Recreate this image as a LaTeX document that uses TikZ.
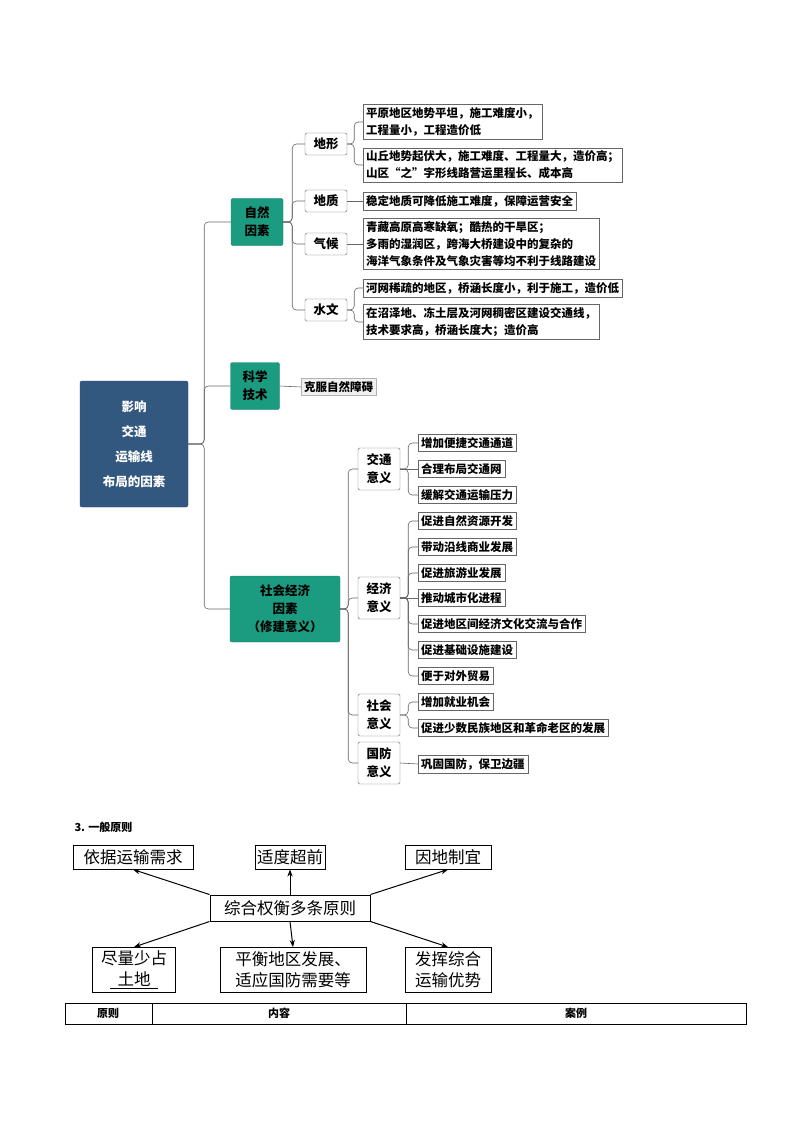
\documentclass[tikz,border=0pt]{standalone}
\usepackage{fontspec}
\newfontfamily\cjk{Noto Sans CJK SC}
\usetikzlibrary{arrows.meta}
\definecolor{rootblue}{HTML}{33587F}
\definecolor{teal}{HTML}{1B9C80}
\tikzset{
  root/.style={draw=rootblue!80!black, fill=rootblue, text=white, rounded corners=2pt,
    font=\cjk\fontsize{12.5}{25}\selectfont\bfseries, align=center, minimum width=108pt, minimum height=126pt},
  main/.style={draw=teal!80!black, fill=teal, text=black, rounded corners=2pt,
    font=\cjk\fontsize{12.5}{18}\selectfont\bfseries, align=center},
  sub/.style={draw=gray!80!black, fill=white, rounded corners=1.5pt,
    font=\cjk\fontsize{12.5}{18}\selectfont\bfseries, align=center, minimum width=42pt},
  leaf/.style={draw=gray!80!black, fill=white, anchor=west, inner sep=3pt,
    font=\cjk\fontsize{11.5}{17}\selectfont\bfseries, align=left},
  link/.style={draw=gray!80!black, line width=0.6pt, rounded corners=4pt},
  box/.style={draw, line width=1pt, font=\cjk\fontsize{16.5}{21}\selectfont, align=center, inner sep=2pt},
  arr/.style={-{Stealth[length=7pt]}, line width=1pt}
}
\begin{document}
\begin{tikzpicture}[x=1pt, y=-1pt]
  \useasboundingbox (0,0) rectangle (794,1123);
  % mind map
  \node[root] (root) at (134,444) {影响\\交通\\运输线\\布局的因素};
  \node[main, minimum width=52pt, minimum height=47pt] (nat) at (257,222) {自然\\因素};
  \node[main, minimum width=49pt, minimum height=47pt] (sci) at (255,386) {科学\\技术};
  \node[main, minimum width=110pt, minimum height=66pt] (soc) at (285,609) {社会经济\\因素\\（修建意义）};
  \foreach \n in {nat,sci,soc} \draw[link] (root.east) -- ++(16,0) |- (\n.west);

  \node[sub, minimum height=22pt] (dx) at (326,144) {地形};
  \node[sub, minimum height=22pt] (dz) at (326,201) {地质};
  \node[sub, minimum height=22pt] (qh) at (326,244) {气候};
  \node[sub, minimum height=22pt] (sw) at (326,310) {水文};
  \foreach \n in {dx,dz,qh,sw} \draw[link] (nat.east) -- ++(9,0) |- (\n.west);

  \node[leaf] (dx1) at (363,122) {平原地区地势平坦，施工难度小，\\工程量小，工程造价低};
  \node[leaf] (dx2) at (363,165) {山丘地势起伏大，施工难度、工程量大，造价高；\\山区“之”字形线路营运里程长、成本高};
  \node[leaf] (dz1) at (363,201) {稳定地质可降低施工难度，保障运营安全};
  \node[leaf] (qh1) at (363,244) {青藏高原高寒缺氧；酷热的干旱区；\\多雨的湿润区，跨海大桥建设中的复杂的\\海洋气象条件及气象灾害等均不利于线路建设};
  \node[leaf] (sw1) at (363,288) {河网稀疏的地区，桥涵长度小，利于施工，造价低};
  \node[leaf] (sw2) at (363,322) {在沼泽地、冻土层及河网稠密区建设交通线，\\技术要求高，桥涵长度大；造价高};
  \foreach \a/\b in {dx/dx1,dx/dx2,sw/sw1,sw/sw2}
    \draw[link] (\a.east) -- ++(7,0) |- (\b.west);
  \draw[link] (dz.east) -- (dz1.west);
  \draw[link] (qh.east) -- (qh1.west);

  \node[leaf, fill=gray!12, draw=gray!60] (sci1) at (301,387) {克服自然障碍};
  \draw[link] (sci.east) -- (sci1.west);

  \node[sub, minimum height=42pt] (jt) at (379,469) {交通\\意义};
  \node[sub, minimum height=42pt] (jj) at (379,598) {经济\\意义};
  \node[sub, minimum height=42pt] (sh) at (379,715) {社会\\意义};
  \node[sub, minimum height=42pt] (gf) at (379,763) {国防\\意义};
  \foreach \n in {jt,jj,sh,gf} \draw[link] (soc.east) -- ++(8,0) |- (\n.west);

  \node[leaf] (jt1) at (418,443) {增加便捷交通通道};
  \node[leaf] (jt2) at (418,469) {合理布局交通网};
  \node[leaf] (jt3) at (418,495) {缓解交通运输压力};
  \node[leaf] (jj1) at (418,521) {促进自然资源开发};
  \node[leaf] (jj2) at (418,547) {带动沿线商业发展};
  \node[leaf] (jj3) at (418,573) {促进旅游业发展};
  \node[leaf] (jj4) at (418,598) {推动城市化进程};
  \node[leaf] (jj5) at (418,624) {促进地区间经济文化交流与合作};
  \node[leaf] (jj6) at (418,650) {促进基础设施建设};
  \node[leaf] (jj7) at (418,676) {便于对外贸易};
  \node[leaf] (sh1) at (418,702) {增加就业机会};
  \node[leaf] (sh2) at (418,728) {促进少数民族地区和革命老区的发展};
  \node[leaf] (gf1) at (418,764) {巩固国防，保卫边疆};
  \foreach \n in {jt1,jt3} \draw[link] (jt.east) -- ++(8,0) |- (\n.west);
  \draw[link] (jt.east) -- (jt2.west);
  \foreach \n in {jj1,jj2,jj3,jj5,jj6,jj7} \draw[link] (jj.east) -- ++(8,0) |- (\n.west);
  \draw[link] (jj.east) -- (jj4.west);
  \foreach \n in {sh1,sh2} \draw[link] (sh.east) -- ++(8,0) |- (\n.west);
  \draw[link] (gf.east) -- (gf1.west);

  % principles
  \node[anchor=west, font=\cjk\fontsize{11}{13}\selectfont\bfseries] (title) at (71,827) {3. 一般原则};
  \node[box, minimum width=160pt, minimum height=26pt] (ctr) at (290,908) {综合权衡多条原则};
  \node[box, minimum width=120pt, minimum height=24pt] (p1) at (133,857) {依据运输需求};
  \node[box, minimum width=64pt, minimum height=24pt] (p2) at (290,857) {适度超前};
  \node[box, minimum width=86pt, minimum height=24pt] (p3) at (448,857) {因地制宜};
  \node[box, minimum width=83pt, minimum height=45pt] (p4) at (134,970) {尽量少占\\\underline{\ \ 土地\ \ }};
  \node[box, minimum width=146pt, minimum height=45pt] (p5) at (293,970) {平衡地区发展、\\适应国防需要等};
  \node[box, minimum width=86pt, minimum height=45pt] (p6) at (448,970) {发挥综合\\运输优势};
  \draw[arr] (ctr.north west) -- (p1.south);
  \draw[arr] (ctr.north) -- (p2.south);
  \draw[arr] (ctr.north east) -- (p3.south);
  \draw[arr] (ctr.south west) -- (p4.north);
  \draw[arr] (ctr.south) -- (p5.north);
  \draw[arr] (ctr.south east) -- (p6.north);

  % table header
  \draw[line width=0.7pt] (65,1003) rectangle (746,1024) (152,1003) -- (152,1024) (406,1003) -- (406,1024);
  \node[font=\cjk\fontsize{11}{13}\selectfont\bfseries] (h1) at (108,1013.5) {原则};
  \node[font=\cjk\fontsize{11}{13}\selectfont\bfseries] (h2) at (279,1013.5) {内容};
  \node[font=\cjk\fontsize{11}{13}\selectfont\bfseries] (h3) at (576,1013.5) {案例};
\end{tikzpicture}
\end{document}
